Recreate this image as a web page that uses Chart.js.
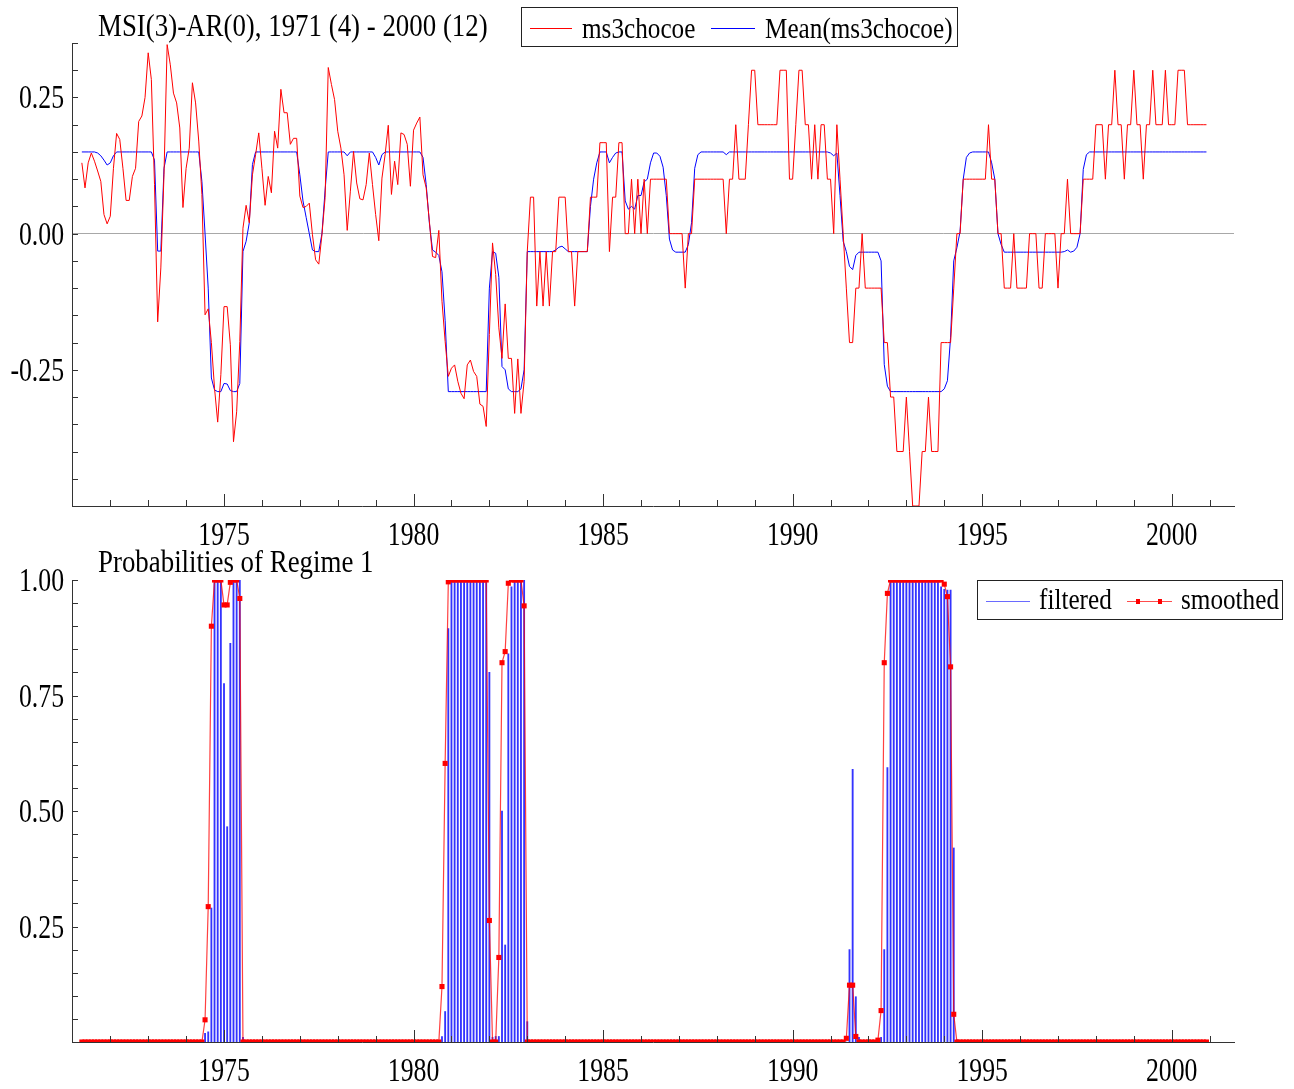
<!DOCTYPE html>
<html>
<head>
<meta charset="utf-8">
<script src="https://cdn.jsdelivr.net/npm/chart.js@4.4.1/dist/chart.umd.min.js"></script>
<style>
  html, body { margin: 0; padding: 0; background: #fff; }
  #wrap { position: relative; width: 1294px; height: 1089px; }
  canvas { position: absolute; left: 0; }
  #top { top: 0; }
  #bottom { top: 545px; }
</style>
</head>
<body>
<div id="wrap">
  <canvas id="top" width="1294" height="545"></canvas>
  <canvas id="bottom" width="1294" height="544"></canvas>
</div>
<script>
// monthly sample 1971(4) - 2000(12), one row per year
const START_YEAR = 1971;
const START_MONTH = 4;

const ms3chocoe = [
  0.13, 0.084, 0.13, 0.148, 0.133, 0.115, 0.096, 0.035, 0.018,
  0.032, 0.12, 0.184, 0.173, 0.12, 0.061, 0.061, 0.105, 0.12, 0.206, 0.216, 0.25,
  0.332, 0.283, 0.09, -0.162, -0.063, 0.108, 0.347, 0.31, 0.258, 0.24, 0.194, 0.048,
  0.12, 0.157, 0.277, 0.24, 0.17, 0.072, -0.149, -0.138, -0.2, -0.284, -0.346, -0.259,
  -0.134, -0.134, -0.204, -0.382, -0.327, -0.198, 0.01, 0.052, 0.02, 0.108, 0.145, 0.185,
  0.12, 0.052, 0.105, 0.075, 0.188, 0.157, 0.265, 0.222, 0.222, 0.164, 0.175, 0.175,
  0.069, 0.048, 0.05, 0.056, -0.002, -0.048, -0.056, -0.002, 0.066, 0.305, 0.274, 0.246,
  0.188, 0.157, 0.108, 0.006, 0.078, 0.151, 0.093, 0.064, 0.062, 0.09, 0.148, 0.09,
  0.035, -0.013, 0.102, 0.145, 0.199, 0.072, 0.133, 0.09, 0.185, 0.182, 0.164, 0.087,
  0.19, 0.203, 0.214, 0.108, 0.084, 0.023, -0.042, -0.044, 0.006, -0.124, -0.198, -0.262,
  -0.247, -0.241, -0.271, -0.293, -0.303, -0.241, -0.232, -0.253, -0.262, -0.313, -0.317, -0.354,
  -0.185, -0.017, -0.075, -0.173, -0.229, -0.129, -0.229, -0.229, -0.33, -0.23, -0.33, -0.271,
  -0.033, 0.067, 0.067, -0.133, -0.033, -0.133, -0.033, -0.133, -0.033, -0.033, 0.067, 0.067,
  0.067, -0.033, -0.033, -0.133, -0.033, -0.033, -0.033, -0.033, 0.067, 0.067, 0.067, 0.167,
  0.167, 0.167, -0.033, 0.067, 0.067, 0.167, 0.167, 0, 0, 0.1, 0, 0.1,
  0, 0.1, 0, 0.1, 0.1, 0.1, 0.1, 0.1, 0.1, 0, 0, 0,
  0, 0, -0.1, 0, 0, 0.1, 0.1, 0.1, 0.1, 0.1, 0.1, 0.1,
  0.1, 0.1, 0.1, 0, 0.1, 0.1, 0.2, 0.1, 0.1, 0.1, 0.2, 0.3,
  0.3, 0.2, 0.2, 0.2, 0.2, 0.2, 0.2, 0.2, 0.3, 0.3, 0.3, 0.1,
  0.1, 0.2, 0.3, 0.3, 0.2, 0.2, 0.1, 0.2, 0.1, 0.2, 0.2, 0.1,
  0.1, 0, 0.2, 0.1, 0, -0.1, -0.2, -0.2, -0.1, -0.1, 0, -0.1,
  -0.1, -0.1, -0.1, -0.1, -0.1, -0.2, -0.2, -0.3, -0.3, -0.4, -0.4, -0.4,
  -0.3, -0.4, -0.5, -0.5, -0.5, -0.4, -0.4, -0.3, -0.4, -0.4, -0.4, -0.2,
  -0.2, -0.2, -0.2, -0.1, 0, 0, 0.1, 0.1, 0.1, 0.1, 0.1, 0.1,
  0.1, 0.1, 0.2, 0.1, 0.1, 0, 0, -0.1, -0.1, -0.1, 0, -0.1,
  -0.1, -0.1, -0.1, 0, 0, 0, -0.1, -0.1, 0, 0, 0, 0,
  -0.1, 0, 0, 0.1, 0, 0, 0, 0, 0.1, 0.1, 0.1, 0.1,
  0.2, 0.2, 0.2, 0.1, 0.2, 0.2, 0.3, 0.2, 0.2, 0.1, 0.2, 0.2,
  0.3, 0.2, 0.2, 0.1, 0.2, 0.2, 0.3, 0.2, 0.2, 0.2, 0.3, 0.2,
  0.2, 0.2, 0.3, 0.3, 0.3, 0.2, 0.2, 0.2, 0.2, 0.2, 0.2, 0.2
];

const meanMs3chocoe = [
  0.15, 0.15, 0.15, 0.15, 0.15, 0.148, 0.143, 0.135, 0.126,
  0.13, 0.143, 0.15, 0.15, 0.15, 0.15, 0.15, 0.15, 0.15, 0.15, 0.15, 0.15,
  0.15, 0.15, 0.135, -0.032, -0.032, 0.12, 0.15, 0.15, 0.15, 0.15, 0.15, 0.15,
  0.15, 0.15, 0.15, 0.15, 0.15, 0.096, 0, -0.1, -0.265, -0.287, -0.29, -0.29,
  -0.275, -0.276, -0.288, -0.29, -0.29, -0.275, -0.033, -0.014, 0.02, 0.127, 0.15, 0.15,
  0.15, 0.15, 0.15, 0.15, 0.15, 0.15, 0.15, 0.15, 0.15, 0.15, 0.15, 0.15,
  0.108, 0.06, 0.03, 0, -0.03, -0.033, -0.033, 0, 0.08, 0.15, 0.15, 0.15,
  0.15, 0.15, 0.15, 0.143, 0.15, 0.15, 0.15, 0.15, 0.15, 0.15, 0.15, 0.15,
  0.14, 0.126, 0.145, 0.15, 0.15, 0.15, 0.15, 0.15, 0.15, 0.15, 0.15, 0.15,
  0.15, 0.15, 0.15, 0.14, 0.09, 0.02, -0.03, -0.034, -0.04, -0.07, -0.16, -0.29,
  -0.29, -0.29, -0.29, -0.29, -0.29, -0.29, -0.29, -0.29, -0.29, -0.29, -0.29, -0.29,
  -0.1, -0.033, -0.036, -0.08, -0.244, -0.25, -0.285, -0.29, -0.29, -0.29, -0.285, -0.25,
  -0.033, -0.033, -0.033, -0.033, -0.033, -0.033, -0.033, -0.033, -0.033, -0.03, -0.025, -0.023,
  -0.028, -0.033, -0.033, -0.033, -0.033, -0.033, -0.033, -0.033, 0.05, 0.1, 0.13, 0.15,
  0.15, 0.15, 0.13, 0.14, 0.148, 0.15, 0.15, 0.06, 0.045, 0.05, 0.045, 0.07,
  0.07, 0.095, 0.1, 0.13, 0.148, 0.148, 0.142, 0.122, 0.07, -0.01, -0.03, -0.034,
  -0.034, -0.034, -0.034, -0.02, 0.02, 0.12, 0.145, 0.15, 0.15, 0.15, 0.15, 0.15,
  0.15, 0.15, 0.15, 0.145, 0.15, 0.15, 0.15, 0.15, 0.15, 0.15, 0.15, 0.15,
  0.15, 0.15, 0.15, 0.15, 0.15, 0.15, 0.15, 0.15, 0.15, 0.15, 0.15, 0.15,
  0.15, 0.15, 0.15, 0.15, 0.15, 0.15, 0.15, 0.15, 0.15, 0.15, 0.15, 0.15,
  0.148, 0.143, 0.148, 0.07, -0.014, -0.033, -0.06, -0.066, -0.04, -0.034, -0.034, -0.034,
  -0.034, -0.034, -0.034, -0.034, -0.05, -0.24, -0.28, -0.29, -0.29, -0.29, -0.29, -0.29,
  -0.29, -0.29, -0.29, -0.29, -0.29, -0.29, -0.29, -0.29, -0.29, -0.29, -0.29, -0.29,
  -0.285, -0.27, -0.19, -0.05, -0.026, 0.004, 0.1, 0.14, 0.148, 0.15, 0.15, 0.15,
  0.15, 0.15, 0.15, 0.13, 0.1, 0, -0.02, -0.034, -0.034, -0.034, -0.034, -0.034,
  -0.034, -0.034, -0.034, -0.034, -0.034, -0.034, -0.034, -0.034, -0.034, -0.034, -0.034, -0.034,
  -0.034, -0.034, -0.033, -0.03, -0.034, -0.032, -0.025, 0, 0.118, 0.145, 0.15, 0.15,
  0.15, 0.15, 0.15, 0.15, 0.15, 0.15, 0.15, 0.15, 0.15, 0.15, 0.15, 0.15,
  0.15, 0.15, 0.15, 0.15, 0.15, 0.15, 0.15, 0.15, 0.15, 0.15, 0.15, 0.15,
  0.15, 0.15, 0.15, 0.15, 0.15, 0.15, 0.15, 0.15, 0.15, 0.15, 0.15, 0.15
];

// probabilities of regime 1
const filteredR1 = [
  0, 0, 0, 0, 0, 0, 0, 0, 0,
  0, 0, 0, 0, 0, 0, 0, 0, 0, 0, 0, 0,
  0, 0, 0, 0, 0, 0, 0, 0, 0, 0, 0, 0,
  0, 0, 0, 0, 0, 0, 0.019, 0.022, 0.29, 1, 1, 1,
  0.776, 0.466, 0.863, 1, 1, 1, 0.01, 0, 0, 0, 0, 0,
  0, 0, 0, 0, 0, 0, 0, 0, 0, 0, 0, 0,
  0, 0, 0, 0, 0, 0, 0, 0, 0, 0, 0, 0,
  0, 0, 0, 0, 0, 0, 0, 0, 0, 0, 0, 0,
  0, 0, 0, 0, 0, 0, 0, 0, 0, 0, 0, 0,
  0, 0, 0, 0, 0, 0, 0, 0, 0, 0.012, 0.066, 0.895,
  1, 1, 1, 1, 1, 1, 1, 1, 1, 1, 1, 1,
  0.8, 0.01, 0.012, 0.012, 0.5, 0.21, 0.84, 0.985, 1, 1, 1, 1,
  0.044, 0, 0, 0, 0, 0, 0, 0, 0, 0, 0, 0,
  0, 0, 0, 0, 0, 0, 0, 0, 0, 0, 0, 0,
  0, 0, 0, 0, 0, 0, 0, 0, 0, 0, 0, 0,
  0, 0, 0, 0, 0, 0, 0, 0, 0, 0, 0, 0,
  0, 0, 0, 0, 0, 0, 0, 0, 0, 0, 0, 0,
  0, 0, 0, 0, 0, 0, 0, 0, 0, 0, 0, 0,
  0, 0, 0, 0, 0, 0, 0, 0, 0, 0, 0, 0,
  0, 0, 0, 0, 0, 0, 0, 0, 0, 0, 0, 0,
  0, 0, 0, 0, 0, 0, 0.2, 0.59, 0.098, 0.01, 0, 0,
  0, 0, 0, 0, 0.01, 0.2, 0.594, 1, 1, 1, 1, 1,
  1, 1, 1, 1, 1, 1, 1, 1, 1, 1, 1, 0.985,
  0.98, 0.978, 0.978, 0.42, 0.005, 0, 0, 0, 0, 0, 0, 0,
  0, 0, 0, 0, 0, 0, 0, 0, 0, 0, 0, 0,
  0, 0, 0, 0, 0, 0, 0, 0, 0, 0, 0, 0,
  0, 0, 0, 0, 0, 0, 0, 0, 0, 0, 0, 0,
  0, 0, 0, 0, 0, 0, 0, 0, 0, 0, 0, 0,
  0, 0, 0, 0, 0, 0, 0, 0, 0, 0, 0, 0,
  0, 0, 0, 0, 0, 0, 0, 0, 0, 0, 0, 0
];

const smoothedR1 = [
  0, 0, 0, 0, 0, 0, 0, 0, 0,
  0, 0, 0, 0, 0, 0, 0, 0, 0, 0, 0, 0,
  0, 0, 0, 0, 0, 0, 0, 0, 0, 0, 0, 0,
  0, 0, 0, 0, 0, 0, 0.048, 0.293, 0.9, 1, 1, 1,
  0.946, 0.946, 0.995, 1, 1, 0.96, 0, 0, 0, 0, 0, 0,
  0, 0, 0, 0, 0, 0, 0, 0, 0, 0, 0, 0,
  0, 0, 0, 0, 0, 0, 0, 0, 0, 0, 0, 0,
  0, 0, 0, 0, 0, 0, 0, 0, 0, 0, 0, 0,
  0, 0, 0, 0, 0, 0, 0, 0, 0, 0, 0, 0,
  0, 0, 0, 0, 0, 0, 0, 0, 0, 0.12, 0.603, 0.996,
  1, 1, 1, 1, 1, 1, 1, 1, 1, 1, 1, 1,
  0.263, 0, 0, 0.183, 0.821, 0.845, 0.993, 1, 1, 1, 1, 0.944,
  0, 0, 0, 0, 0, 0, 0, 0, 0, 0, 0, 0,
  0, 0, 0, 0, 0, 0, 0, 0, 0, 0, 0, 0,
  0, 0, 0, 0, 0, 0, 0, 0, 0, 0, 0, 0,
  0, 0, 0, 0, 0, 0, 0, 0, 0, 0, 0, 0,
  0, 0, 0, 0, 0, 0, 0, 0, 0, 0, 0, 0,
  0, 0, 0, 0, 0, 0, 0, 0, 0, 0, 0, 0,
  0, 0, 0, 0, 0, 0, 0, 0, 0, 0, 0, 0,
  0, 0, 0, 0, 0, 0, 0, 0, 0, 0, 0, 0,
  0, 0, 0, 0, 0, 0.008, 0.123, 0.123, 0.012, 0, 0, 0,
  0, 0, 0, 0.004, 0.068, 0.821, 0.971, 1, 1, 1, 1, 1,
  1, 1, 1, 1, 1, 1, 1, 1, 1, 1, 1, 1,
  0.991, 0.964, 0.812, 0.06, 0, 0, 0, 0, 0, 0, 0, 0,
  0, 0, 0, 0, 0, 0, 0, 0, 0, 0, 0, 0,
  0, 0, 0, 0, 0, 0, 0, 0, 0, 0, 0, 0,
  0, 0, 0, 0, 0, 0, 0, 0, 0, 0, 0, 0,
  0, 0, 0, 0, 0, 0, 0, 0, 0, 0, 0, 0,
  0, 0, 0, 0, 0, 0, 0, 0, 0, 0, 0, 0,
  0, 0, 0, 0, 0, 0, 0, 0, 0, 0, 0, 0
];

const yearLabels = [1975, 1980, 1985, 1990, 1995, 2000];
const topYLabels = [-0.25, 0, 0.25];
const bottomYLabels = [0.25, 0.5, 0.75, 1];

const SERIF = '"Liberation Serif", "Times New Roman", serif';
const AXIS = '#333333';

const monthX = (i) => START_YEAR + (START_MONTH - 1 + i) / 12;
const toXY = (arr) => arr.map((v, i) => ({ x: monthX(i), y: v }));

// the original text is tall and narrow, so squeeze it horizontally
function drawText(ctx, s, x, y, align, size, sx) {
  ctx.save();
  ctx.font = size + 'px ' + SERIF;
  ctx.fillStyle = '#000';
  ctx.textBaseline = 'alphabetic';
  ctx.textAlign = align;
  ctx.translate(x, y);
  ctx.scale(sx, 1);
  ctx.fillText(s, 0, 0);
  ctx.restore();
}

function hline(ctx, x0, x1, y, color, w) {
  ctx.strokeStyle = color;
  ctx.lineWidth = w || 1;
  ctx.beginPath();
  ctx.moveTo(x0, y + 0.5);
  ctx.lineTo(x1, y + 0.5);
  ctx.stroke();
}

// ticks inside the axes, labels, title and legend
const decor = {
  id: 'decor',
  afterDraw(chart, args, o) {
    const { ctx, chartArea: a } = chart;
    const xs = chart.scales.x, ys = chart.scales.y;
    ctx.save();
    ctx.strokeStyle = AXIS;
    ctx.lineWidth = 1;
    ctx.beginPath();
    for (let yr = 1971; yr <= 2001; yr++) {
      const px = Math.round(xs.getPixelForValue(yr)) + 0.5;
      const len = yr % 5 === 0 ? 12 : 6;
      ctx.moveTo(px, a.bottom);
      ctx.lineTo(px, a.bottom - len);
    }
    for (let k = o.minorFrom; k <= o.minorTo; k++) {
      const py = Math.round(ys.getPixelForValue(k * 0.05)) + 0.5;
      ctx.moveTo(a.left, py);
      ctx.lineTo(a.left + 6, py);
    }
    ctx.stroke();
    ctx.restore();

    yearLabels.forEach((yr) =>
      drawText(ctx, String(yr), xs.getPixelForValue(yr), a.bottom + 39, 'center', 33, 0.78));
    o.yLabels.forEach((v) =>
      drawText(ctx, v.toFixed(2), a.left - 8, ys.getPixelForValue(v) + 11, 'right', 33, 0.78));
    drawText(ctx, o.title, 98, o.titleY, 'left', 32, 0.84);
    o.legend(ctx);
  }
};

function legendTop(ctx) {
  ctx.save();
  ctx.strokeStyle = '#222';
  ctx.lineWidth = 1;
  ctx.strokeRect(521.5, 7.5, 436, 39);
  hline(ctx, 530, 572, 28, '#ff0000');
  hline(ctx, 711, 755, 28, '#0000ff');
  ctx.restore();
  drawText(ctx, 'ms3chocoe', 582, 38, 'left', 30, 0.84);
  drawText(ctx, 'Mean(ms3chocoe)', 765, 38, 'left', 30, 0.84);
}

function legendBottom(ctx) {
  ctx.save();
  ctx.strokeStyle = '#222';
  ctx.lineWidth = 1;
  ctx.strokeRect(977.5, 35.5, 305, 39);
  hline(ctx, 986, 1030, 56, '#6a6aff');
  hline(ctx, 1127, 1172, 56, 'rgba(255,0,0,0.7)');
  ctx.fillStyle = '#ff0000';
  ctx.fillRect(1136, 54, 4, 5);
  ctx.fillRect(1158, 54, 4, 5);
  ctx.restore();
  drawText(ctx, 'filtered', 1039, 64, 'left', 30, 0.84);
  drawText(ctx, 'smoothed', 1181, 64, 'left', 30, 0.84);
}

function xScale() {
  return {
    type: 'linear',
    min: 1970.99,
    max: 2001.643,
    offset: false,
    grid: { display: false },
    ticks: { display: false },
    border: { display: true, color: AXIS, width: 1 },
    afterFit: (s) => { s.height = 0; }
  };
}

new Chart(document.getElementById('top'), {
  type: 'line',
  data: {
    datasets: [
      { label: 'ms3chocoe', data: toXY(ms3chocoe), borderColor: '#ff0000', borderWidth: 1, pointRadius: 0 },
      { label: 'Mean(ms3chocoe)', data: toXY(meanMs3chocoe), borderColor: '#0000ff', borderWidth: 1, pointRadius: 0 }
    ]
  },
  options: {
    responsive: false,
    animation: false,
    layout: { padding: { left: 72, right: 60, top: 43, bottom: 39 } },
    plugins: {
      legend: { display: false },
      tooltip: { enabled: false },
      decor: { minorFrom: -10, minorTo: 7, yLabels: topYLabels, title: 'MSI(3)-AR(0), 1971 (4) - 2000 (12)', titleY: 36, legend: legendTop }
    },
    scales: {
      x: xScale(),
      y: {
        min: -0.5,
        max: 0.35,
        ticks: { display: false, stepSize: 0.05 },
        grid: {
          drawTicks: false,
          color: (c) => (Math.abs(c.tick.value) < 1e-9 ? '#a8a8a8' : 'rgba(0,0,0,0)')
        },
        border: { display: true, color: AXIS, width: 1 },
        afterFit: (s) => { s.width = 0; }
      }
    }
  },
  plugins: [decor]
});

new Chart(document.getElementById('bottom'), {
  type: 'bar',
  data: {
    datasets: [
      {
        type: 'line', label: 'smoothed', data: toXY(smoothedR1), order: 1,
        borderColor: 'rgba(255,0,0,0.75)', borderWidth: 1.2,
        pointStyle: 'rect', pointRadius: 3.6, pointBorderWidth: 0,
        pointBackgroundColor: '#ff0000'
      },
      {
        type: 'bar', label: 'filtered', data: toXY(filteredR1), order: 2,
        backgroundColor: 'rgba(0,0,255,0.8)', barThickness: 1.2
      }
    ]
  },
  options: {
    responsive: false,
    animation: false,
    layout: { padding: { left: 72, right: 60, top: 35, bottom: 47 } },
    plugins: {
      legend: { display: false },
      tooltip: { enabled: false },
      decor: { minorFrom: 0, minorTo: 20, yLabels: bottomYLabels, title: 'Probabilities of Regime 1', titleY: 27, legend: legendBottom }
    },
    scales: {
      x: xScale(),
      y: {
        min: 0,
        max: 1,
        ticks: { display: false },
        grid: { display: false },
        border: { display: true, color: AXIS, width: 1 },
        afterFit: (s) => { s.width = 0; }
      }
    }
  },
  plugins: [decor]
});
</script>
</body>
</html>
